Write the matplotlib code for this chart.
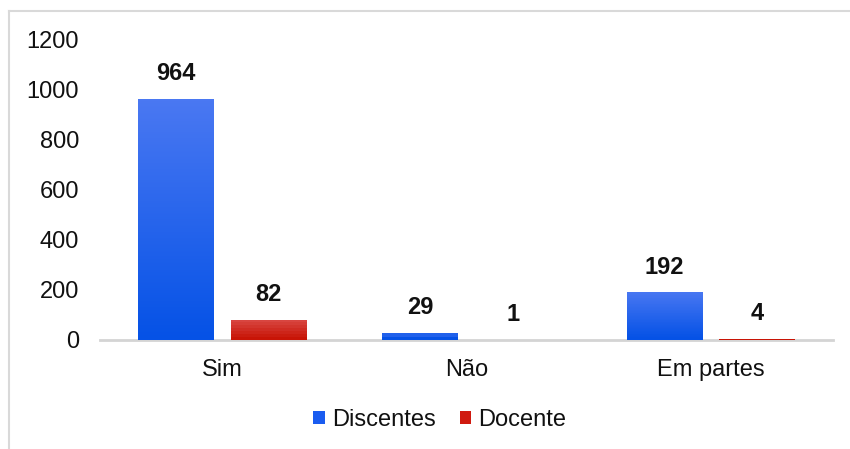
import matplotlib
matplotlib.use("Agg")
import matplotlib.pyplot as plt
import numpy as np
from matplotlib.patches import Patch
from matplotlib.colors import LinearSegmentedColormap
from matplotlib.lines import Line2D

categories = ["Sim", "Não", "Em partes"]
series_names = ["Discentes", "Docente"]
discentes = [964, 29, 192]
docente = [82, 1, 4]
yticks = [0, 200, 400, 600, 800, 1000, 1200]

plt.rcParams['font.family'] = ['Liberation Sans', 'DejaVu Sans']

W, H = 850, 449
fig = plt.figure(figsize=(W / 100, H / 100), dpi=100)
ax = fig.add_axes([100 / W, (H - 340) / H, 733 / W, 300 / H])

grad = {
    "Discentes": ("#4a78f2", "#0552e6"),
    "Docente": ("#da4c48", "#c81406"),
}
solid = {"Discentes": "#1a5cf0", "Docente": "#d01a10"}

width = 0.31
offsets = [-0.19, 0.19]
x = np.arange(len(categories))
for name, vals, off in zip(series_names, [discentes, docente], offsets):
    top_c, bot_c = grad[name]
    cmap = LinearSegmentedColormap.from_list(name, [bot_c, top_c])
    bars = ax.bar(x + off, vals, width, color=bot_c, edgecolor="none", zorder=3)
    for b, v in zip(bars, vals):
        x0 = b.get_x()
        x1 = x0 + b.get_width()
        img = np.linspace(0, 1, 100).reshape(-1, 1)
        im = ax.imshow(img, extent=(x0 - 0.5, x1 + 0.5, 0, 1200), origin="lower",
                       cmap=cmap, aspect="auto", zorder=4,
                       vmin=0, vmax=v / 1200.0)
        im.set_clip_path(b)
        ax.annotate(str(v), (x0 + b.get_width() / 2, v), xytext=(0, 25),
                    textcoords="offset pixels", ha="center", va="center",
                    fontsize=17, fontweight="bold", color="#111111")

ax.set_xlim(-0.5, 2.5)
ax.set_ylim(0, 1200)
ax.set_yticks(yticks)
ax.set_xticks(x)
ax.set_xticklabels(categories)
ax.tick_params(axis="both", length=0, labelsize=17, colors="#111111")
ax.tick_params(axis="y", pad=15)
ax.tick_params(axis="x", pad=14)
for s in ["left", "right", "top"]:
    ax.spines[s].set_visible(False)
ax.spines["bottom"].set_color("#d4d4d4")
ax.spines["bottom"].set_linewidth(2)
ax.spines["bottom"].set_zorder(1)

handles = [Patch(facecolor=solid[n], edgecolor="none", label=n) for n in series_names]
fig.legend(handles=handles, loc="center", bbox_to_anchor=(440 / W, (H - 420) / H),
           ncol=2, frameon=False, fontsize=17, handlelength=0.5, handleheight=0.5,
           handletextpad=0.3, columnspacing=1.0, labelcolor="#111111")

fig.add_artist(Line2D([9 / W, 1], [(H - 11) / H, (H - 11) / H], transform=fig.transFigure,
                      color="#d9d9d9", linewidth=1.5))
fig.add_artist(Line2D([9 / W, 9 / W], [0, (H - 11) / H], transform=fig.transFigure,
                      color="#d9d9d9", linewidth=1.5))

fig.savefig("out.png", dpi=100)
